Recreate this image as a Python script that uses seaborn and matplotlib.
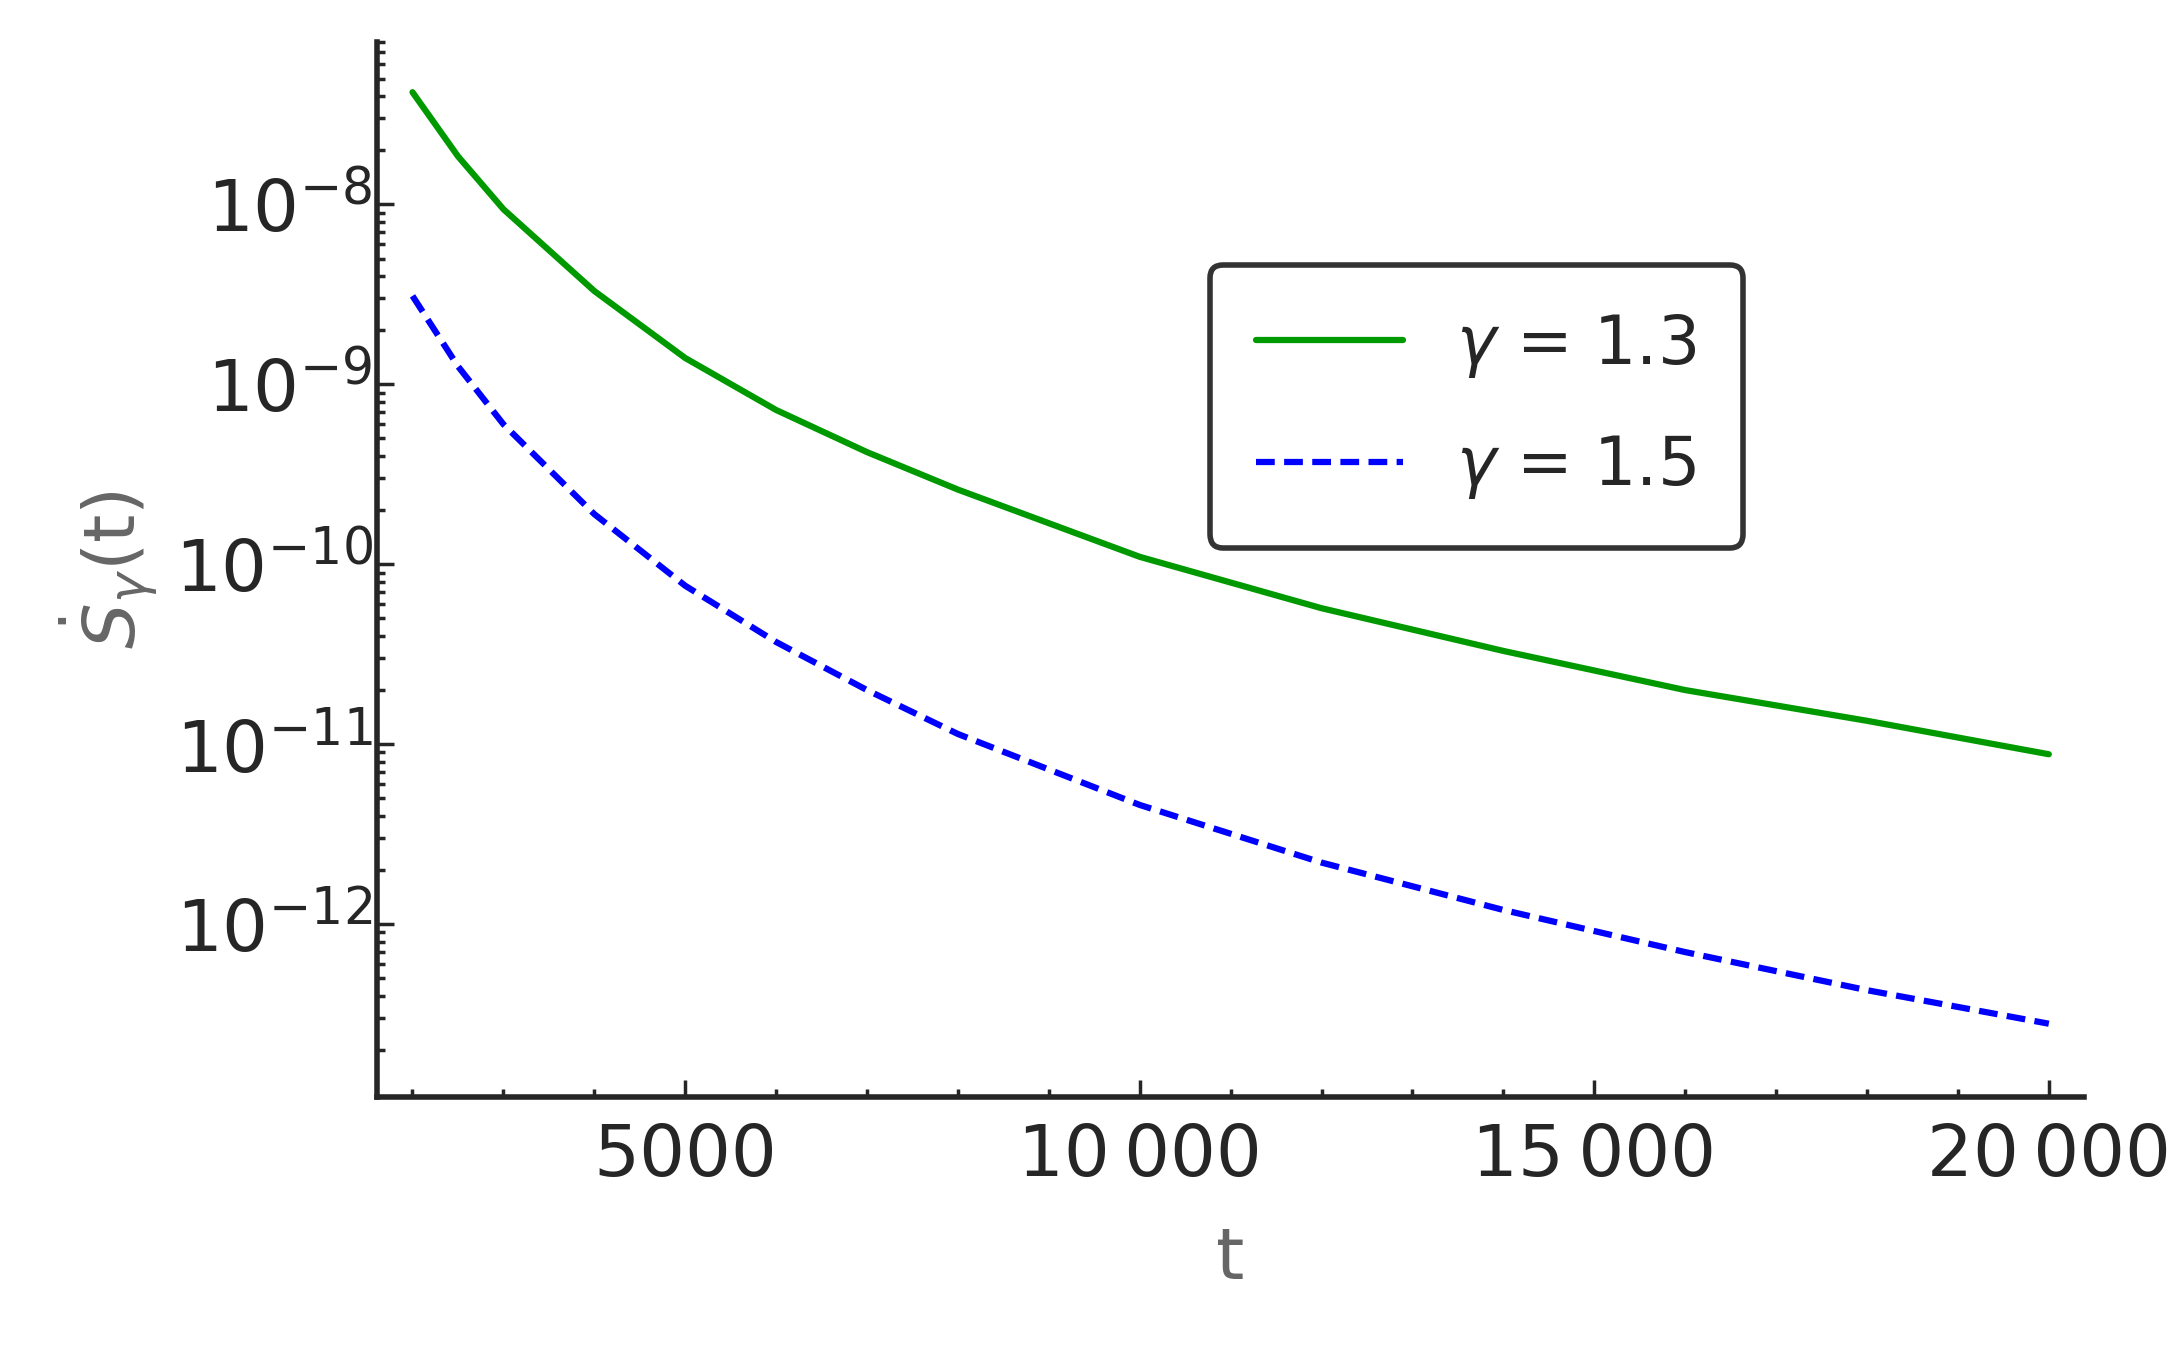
import matplotlib
matplotlib.use("Agg")
import matplotlib.pyplot as plt
import matplotlib.ticker as mt
import seaborn as sns
import pandas as pd

t = [2000, 2500, 3000, 4000, 5000, 6000, 7000, 8000, 10000, 12000, 14000, 16000, 18000, 20000]
s13 = [4.2e-8, 1.85e-8, 9.4e-9, 3.3e-9, 1.4e-9, 7.2e-10, 4.2e-10, 2.6e-10, 1.1e-10, 5.7e-11, 3.3e-11, 2.0e-11, 1.35e-11, 8.8e-12]
s15 = [3.1e-9, 1.26e-9, 6.0e-10, 1.9e-10, 7.6e-11, 3.7e-11, 2.0e-11, 1.14e-11, 4.6e-12, 2.2e-12, 1.2e-12, 7.0e-13, 4.3e-13, 2.8e-13]
xticks = [5000, 10000, 15000, 20000]
xticklabels = ["5000", "10\u2009000", "15\u2009000", "20\u2009000"]
yticks = [1e-8, 1e-9, 1e-10, 1e-11, 1e-12]
yticklabels = [r"$10^{-8}$", r"$10^{-9}$", r"$10^{-10}$", r"$10^{-11}$", r"$10^{-12}$"]

sns.set_style("ticks")
plt.rcParams['font.family'] = ['DejaVu Sans']
plt.rcParams['mathtext.fontset'] = 'dejavusans'

fig = plt.figure(figsize=(21.82, 13.49), dpi=100)
ax = fig.add_axes([0.173, 0.187, 0.782, 0.782])
df = pd.DataFrame({"t": t, "a": s13, "b": s15})
sns.lineplot(data=df, x="t", y="a", ax=ax, color="#009900", lw=4.5, label=r"$\gamma$ = 1.3")
sns.lineplot(data=df, x="t", y="b", ax=ax, color="#0000ff", lw=4.5, ls=(0, (3, 1.5)), label=r"$\gamma$ = 1.5")
ax.set_yscale("log")
ax.set_xlim(1615, 20385)
ax.set_ylim(1.1e-13, 8e-8)
ax.set_xticks(xticks)
ax.set_xticklabels(xticklabels)
ax.set_yticks(yticks)
ax.set_yticklabels(yticklabels)
ax.xaxis.set_minor_locator(mt.MultipleLocator(1000))
ax.yaxis.set_minor_locator(mt.LogLocator(base=10, subs=range(2, 10), numticks=20))
ax.yaxis.set_minor_formatter(mt.NullFormatter())
ax.tick_params(which="both", direction="in", labelsize=52, width=2.5)
ax.tick_params(which="major", length=12)
ax.tick_params(which="minor", length=6)
ax.tick_params(axis="x", pad=18)
for s in ["top", "right"]:
    ax.spines[s].set_visible(False)
for s in ["left", "bottom"]:
    ax.spines[s].set_linewidth(4)
ax.set_xlabel("t", fontsize=52, color="#666666", labelpad=25)
ax.set_ylabel(r"$\dot{S}_{\gamma}$(t)", fontsize=52, color="#666666", labelpad=10)
leg = ax.legend(loc="upper right", bbox_to_anchor=(0.82, 0.82), fontsize=48, frameon=True,
                fancybox=True, edgecolor="black", handlelength=2.2, borderpad=0.7, labelspacing=0.8)
leg.get_frame().set_linewidth(4)
fig.savefig("out.png", dpi=100)
